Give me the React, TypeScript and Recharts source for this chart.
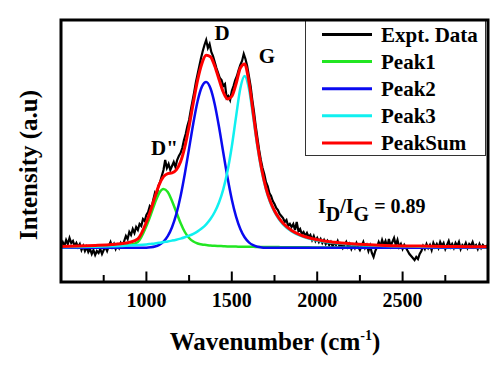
import React from 'react';
import { LineChart, Line, XAxis, YAxis, Legend } from 'recharts';

// ---- data (intensity in arbitrary units, baseline = 0) ----
const fitWavenumbers = [
  500, 600, 700, 800, 850, 900, 950,
  1000, 1025, 1050, 1075, 1100, 1125, 1150, 1175, 1200, 1225, 1250, 1275, 1300, 1325,
  1350, 1375, 1400, 1425, 1450, 1475, 1500, 1525, 1550, 1575, 1600, 1625, 1650, 1675,
  1700, 1725, 1750, 1775, 1800,
  1850, 1900, 1950, 2000, 2100, 2200, 2400, 2600, 2800, 3000,
];
const peak1 = [
  0.5, 0.7, 1.0, 1.5, 2.0, 3.0, 6.0,
  22, 33, 45, 55, 59, 56, 47, 36, 25, 16, 10, 6.5, 4.5, 3.5,
  3.0, 2.5, 2.2, 2.0, 1.8, 1.6, 1.5, 1.4, 1.3, 1.25, 1.2, 1.15, 1.1, 1.05,
  1.0, 1.0, 0.95, 0.9, 0.8,
  0.75, 0.7, 0.65, 0.6, 0.55, 0.5, 0.4, 0.35, 0.3, 0.3,
];
const peak2 = [
  0.2, 0.2, 0.2, 0.2, 0.2, 0.2, 0.2,
  0.3, 0.7, 1.5, 3.2, 6.3, 11.8, 20.7, 33.8, 51.8, 74.3, 99.6, 125, 147, 161.4,
  166, 159.7, 143.8, 121.2, 95.5, 70.5, 48.6, 31.4, 19.0, 10.7, 5.7, 2.8, 1.3, 0.6,
  0.3, 0.2, 0.2, 0.2, 0.2,
  0.2, 0.2, 0.2, 0.2, 0.2, 0.2, 0.2, 0.2, 0.2, 0.2,
];
const peak3 = [
  0.8, 1.0, 1.3, 1.7, 2.0, 2.4, 2.9,
  3.6, 4.1, 4.6, 5.2, 6.0, 6.6, 7.4, 8.3, 9.4, 10.7, 12.3, 14.2, 16.6, 19.7,
  23.7, 29.0, 36.0, 45.5, 58.7, 77.0, 101.5, 131.4, 159.7, 172, 159.7, 131.4, 101.5, 77.0,
  58.7, 45.5, 36.0, 29.0, 23.7,
  16.6, 12.3, 9.4, 7.4, 4.9, 3.5, 2.0, 1.3, 1.0, 0.8,
];
const peakSum = [
  1.5, 1.9, 2.5, 3.4, 4.2, 5.6, 9.1,
  25.9, 37.8, 51.1, 63.4, 71.3, 74.4, 75.1, 78.1, 86.2, 101.0, 121.9, 145.7, 168.1, 184.6,
  192.7, 191.2, 182.0, 168.7, 156.0, 149.1, 151.6, 164.2, 180.0, 184.0, 166.6, 135.4, 103.9, 78.7,
  60.0, 46.7, 37.2, 30.1, 24.7,
  17.6, 13.2, 10.3, 8.2, 5.7, 4.2, 2.6, 1.9, 1.5, 1.3,
];

const exptStart = 500;
const exptStep = 10;
const exptIntensity = [
  3, 6, 2, 8, 4, 10, 5, 7, 2, 5,
  1, 4, -2, 2, -3, 1, -4, -1, -6, -2,
  -7, -3, -5, -1, -6, -2, 1, -3, 2, 6,
  1, 4, -1, 3, 0, 5, 2, 7, 12, 9,
  16, 13, 19, 15, 21, 18, 24, 22, 29, 27,
  33, 36, 42, 40, 48, 55, 52, 62, 66, 72,
  78, 88, 80, 84, 78, 82, 86, 81, 88, 92,
  95, 100, 108, 114, 122, 128, 138, 147, 156, 166,
  174, 182, 190, 197, 203, 208, 200, 204, 196, 192,
  186, 180, 175, 170, 168, 162, 164, 150, 152, 148,
  157, 162, 168, 172, 178, 183, 187, 194, 189, 182,
  172, 162, 148, 136, 122, 110, 98, 88, 80, 74,
  66, 62, 55, 52, 47, 44, 40, 38, 34, 32,
  30, 26, 28, 22, 24, 21, 24, 18, 26, 17,
  19, 14, 16, 12, 15, 11, 13, 8, 12, 7,
  10, 6, 9, 5, 8, 4, 7, 3, 6, 2,
  5, 3, 7, 2, 4, 0, 3, 6, 1, 4,
  -1, 3, 0, 5, 1, -2, 2, 6, 0, 3,
  -3, 2, -5, -9, -3, 1, 6, 2, 8, 3,
  7, 1, 9, 2, 6, 10, 3, 8, 1, 4,
  -1, 3, 0, -3, -6, -8, -10, -12, -9, -11,
  -6, -3, 2, -1, 4, 0, 3, -2, 5, 1,
  4, 0, 6, 2, 5, -1, 3, 7, 1, 4,
  0, 5, 2, 6, -1, 3, 1, 5, 0, 4,
  2, 6, 1, 3, -1, 4, 0, 3, 1, 2,
  0,
];

const xTicks = [750, 1000, 1250, 1500, 1750, 2000, 2250, 2500, 2750];
const xDomain: [number, number] = [500, 3000];
const yDomain: [number, number] = [-34, 228];

const FONT = "'Liberation Serif', Tinos, 'Times New Roman', serif";

// plot box (from the chart margins below)
const CHART_W = 497;
const CHART_H = 374;
const M = { top: 20, right: 9, bottom: 62, left: 61 };
const AXIS_H = 30;
const PLOT_L = M.left;
const PLOT_T = M.top;
const PLOT_W = CHART_W - M.left - M.right;
const PLOT_H = CHART_H - M.top - M.bottom - AXIS_H;
const PLOT_B = PLOT_T + PLOT_H;

const toSeries = (xs: number[], ys: number[]) => xs.map((x, i) => ({ x, y: ys[i] }));
const exptSeries = exptIntensity.map((y, i) => ({ x: exptStart + i * exptStep, y }));

// tick props: y = axis line y + tickSize(6) + tickMargin(2)
const XTick = (props: any) => {
  const { x, y, payload } = props;
  const v = payload.value;
  const major = v % 500 === 0;
  const axisY = y - 8;
  if (!major) return <g />;
  return (
    <text x={x} y={axisY + 25} textAnchor="middle" fontFamily={FONT} fontWeight="bold" fontSize={20} fill="#000">
      {v}
    </text>
  );
};

const LegendBox = (props: any) => {
  const items = props.payload || [];
  return (
    <svg width={182} height={137} style={{ display: 'block' }}>
      <rect x={0.5} y={0.5} width={180} height={136} fill="#fff" stroke="#333" strokeWidth={1} />
      {items.map((it: any, i: number) => {
        const cy = 15.5 + i * 27.1;
        return (
          <g key={i}>
            <line x1={17} x2={67} y1={cy} y2={cy} stroke={it.color} strokeWidth={3} />
            <text x={76} y={cy + 7} fontFamily={FONT} fontWeight="bold" fontSize={21} fill="#000">
              {it.value}
            </text>
          </g>
        );
      })}
    </svg>
  );
};

const tickX = (v: number) => PLOT_L + ((v - xDomain[0]) / (xDomain[1] - xDomain[0])) * PLOT_W;

export default function App() {
  return (
    <div style={{ position: 'absolute', left: 0, top: 0, width: CHART_W, height: CHART_H, background: '#fff' }}>
      <LineChart width={CHART_W} height={CHART_H} data={exptSeries} margin={M}>
        <XAxis
          type="number"
          dataKey="x"
          domain={xDomain}
          ticks={xTicks}
          interval={0}
          allowDataOverflow
          axisLine={false}
          tickLine={false}
          height={AXIS_H}
          tick={<XTick />}
        />
        <YAxis type="number" domain={yDomain} allowDataOverflow hide />
        <Line dataKey="y" name="Expt. Data" type="linear" stroke="#000000" strokeWidth={2.2} dot={false} isAnimationActive={false} />
        <Line data={toSeries(fitWavenumbers, peak1)} dataKey="y" name="Peak1" type="monotone" stroke="#22e622" strokeWidth={2.5} dot={false} isAnimationActive={false} />
        <Line data={toSeries(fitWavenumbers, peak2)} dataKey="y" name="Peak2" type="monotone" stroke="#0a0af0" strokeWidth={2.5} dot={false} isAnimationActive={false} />
        <Line data={toSeries(fitWavenumbers, peak3)} dataKey="y" name="Peak3" type="monotone" stroke="#10f0f0" strokeWidth={2.5} dot={false} isAnimationActive={false} />
        <Line data={toSeries(fitWavenumbers, peakSum)} dataKey="y" name="PeakSum" type="monotone" stroke="#ff0000" strokeWidth={3} dot={false} isAnimationActive={false} />
        <Legend
          layout="vertical"
          align="center"
          verticalAlign="middle"
          content={<LegendBox />}
          wrapperStyle={{ left: 305, top: 19, width: 182, height: 137 }}
        />
      </LineChart>
      <svg width={CHART_W} height={CHART_H} style={{ position: 'absolute', left: 0, top: 0, pointerEvents: 'none' }}>
        <rect x={PLOT_L} y={PLOT_T} width={PLOT_W} height={PLOT_H} fill="none" stroke="#000" strokeWidth={3} />
        {xTicks.map((v) => (
          <line key={v} x1={tickX(v)} x2={tickX(v)} y1={PLOT_B - 1} y2={PLOT_B - (v % 500 === 0 ? 10.5 : 7)} stroke="#000" strokeWidth={2} />
        ))}
        <g fontFamily={FONT} fontWeight="bold" fill="#000">
          <text x={37} y={165} fontSize={25} textAnchor="middle" transform="rotate(-90 37 165)">Intensity (a.u)</text>
          <text x={275} y={350} fontSize={25} textAnchor="middle">
            Wavenumber (cm<tspan fontSize={14} dy={-10}>-1</tspan><tspan dy={10}>)</tspan>
          </text>
          <text x={222} y={40} fontSize={21} textAnchor="middle">D</text>
          <text x={267} y={63} fontSize={21} textAnchor="middle">G</text>
          <text x={151} y={155} fontSize={21}>D"</text>
          <text x={318} y={213} fontSize={20}>
            I<tspan dy={8}>D</tspan><tspan dy={-8}>/I</tspan><tspan dy={8}>G</tspan><tspan dy={-8}> = 0.89</tspan>
          </text>
        </g>
      </svg>
    </div>
  );
}
